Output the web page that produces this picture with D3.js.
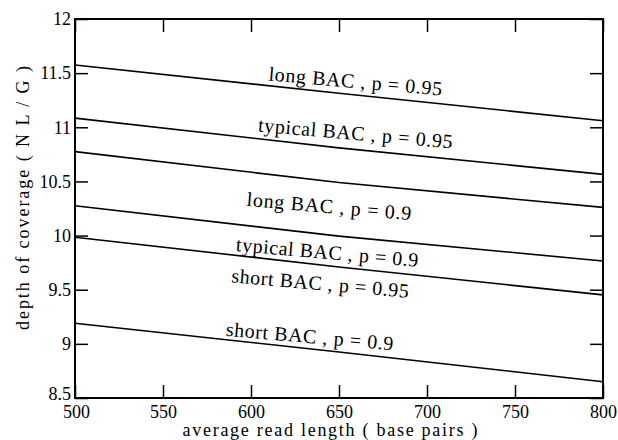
<!DOCTYPE html>
<html>
<head>
<meta charset="utf-8">
<script src="https://cdn.jsdelivr.net/npm/d3@7/dist/d3.min.js"></script>
<style>
  html, body { margin: 0; padding: 0; background: #fff; }
  svg { display: block; }
</style>
</head>
<body>
<svg id="chart" width="618" height="440"></svg>
<script>
// Average read length (base pairs) at which each curve is sampled
const readLength = [500, 650, 800];

// Depth of coverage (N L / G) for each BAC size and probability
const longP95    = [11.575, 11.315, 11.06];
const typicalP95 = [11.085, 10.81, 10.565];
const longP90    = [10.775, 10.49, 10.26];
const typicalP90 = [10.275, 9.995, 9.765];
const shortP95   = [9.985, 9.71, 9.452];
const shortP90   = [9.19, 8.925, 8.65];

const seriesList = [longP95, typicalP95, longP90, typicalP90, shortP95, shortP90];

// Curve annotations, anchored in data coordinates
const labelText = [
  "long BAC , p = 0.95",
  "typical BAC , p = 0.95",
  "long BAC , p = 0.9",
  "typical BAC , p = 0.9",
  "short BAC , p = 0.95",
  "short BAC , p = 0.9"
];
const labelX = [659, 659, 644, 643, 639, 633];
const labelY = [11.363, 10.883, 10.208, 9.784, 9.497, 9.008];

const xTicks = [500, 550, 600, 650, 700, 750, 800];
const yTicks = [8.5, 9, 9.5, 10, 10.5, 11, 11.5, 12];

// Layout: rendered widths of the annotation strings (px)
const labelWidth = [174, 195, 165, 183, 178, 168];

const FAMILY = "Liberation Serif";

// Applies the serif face both as attribute and as inline style
function serif(sel, size) {
  return sel
    .attr("font-family", FAMILY)
    .style("font-family", `"${FAMILY}"`)
    .style("font-size", size + "px")
    .attr("fill", "#000");
}

const margin = { top: 19, right: 15, bottom: 42, left: 75 };
const W = 618, H = 440;
const iw = W - margin.left - margin.right;
const ih = H - margin.top - margin.bottom;

const svg = d3.select("#chart");
const g = svg.append("g").attr("transform", `translate(${margin.left},${margin.top})`);

const x = d3.scaleLinear().domain([500, 800]).range([0, iw]);
const y = d3.scaleLinear().domain([8.5, 12]).range([ih, 0]);

const tickLen = 13;
const fmt = d => String(d);

// Axes with inward ticks on all four sides
const axisB = g.append("g").attr("transform", `translate(0,${ih})`)
  .call(d3.axisBottom(x).tickValues(xTicks).tickSizeInner(-tickLen).tickSizeOuter(0).tickPadding(7).tickFormat(fmt));
const axisT = g.append("g")
  .call(d3.axisTop(x).tickValues(xTicks).tickSizeInner(-tickLen).tickSizeOuter(0).tickFormat(""));
const axisL = g.append("g")
  .call(d3.axisLeft(y).tickValues(yTicks).tickSizeInner(-tickLen).tickSizeOuter(0).tickPadding(4).tickFormat(fmt));
const axisR = g.append("g").attr("transform", `translate(${iw},0)`)
  .call(d3.axisRight(y).tickValues(yTicks).tickSizeInner(-tickLen).tickSizeOuter(0).tickFormat(""));

[axisB, axisT, axisL, axisR].forEach(a => {
  a.attr("font-family", FAMILY).attr("font-size", 18);
  a.select(".domain").remove();
  a.selectAll(".tick line").attr("stroke", "#000").attr("stroke-width", 1.5);
  serif(a.selectAll("text"), 18);
});
// The bottom-left corner labels share the corner, so they are nudged apart
axisB.selectAll(".tick").filter(d => d === 500).select("text").attr("dx", "1");
axisL.selectAll(".tick").filter(d => d === 8.5).select("text").attr("dy", "0.1em");

// Frame
g.append("rect").attr("x", 0).attr("y", 0).attr("width", iw).attr("height", ih)
  .attr("fill", "none").attr("stroke", "#000").attr("stroke-width", 2);

// Curves
const line = d3.line().x((d, i) => x(readLength[i])).y(d => y(d));
g.selectAll("path.curve").data(seriesList).join("path")
  .attr("class", "curve")
  .attr("d", line)
  .attr("fill", "none")
  .attr("stroke", "#000")
  .attr("stroke-width", 1.6);

// Curve labels, tilted along the curves
const angle = 5;
serif(g.selectAll("text.curve-label").data(labelText).join("text"), 20)
  .attr("class", "curve-label")
  .attr("text-anchor", "middle")
  .attr("transform", (d, i) => `translate(${x(labelX[i])},${y(labelY[i])}) rotate(${angle})`)
  .attr("textLength", (d, i) => labelWidth[i])
  .attr("lengthAdjust", "spacing")
  .text(d => d);

// Axis titles
serif(svg.append("text"), 18)
  .attr("x", 330)
  .attr("y", 436)
  .attr("text-anchor", "middle")
  .attr("textLength", 295)
  .attr("lengthAdjust", "spacing")
  .text("average read length ( base pairs )");

serif(svg.append("text"), 18)
  .attr("transform", "translate(29,198) rotate(-90)")
  .attr("text-anchor", "middle")
  .attr("textLength", 264)
  .attr("lengthAdjust", "spacing")
  .text("depth of coverage ( N L / G )");
</script>
</body>
</html>
